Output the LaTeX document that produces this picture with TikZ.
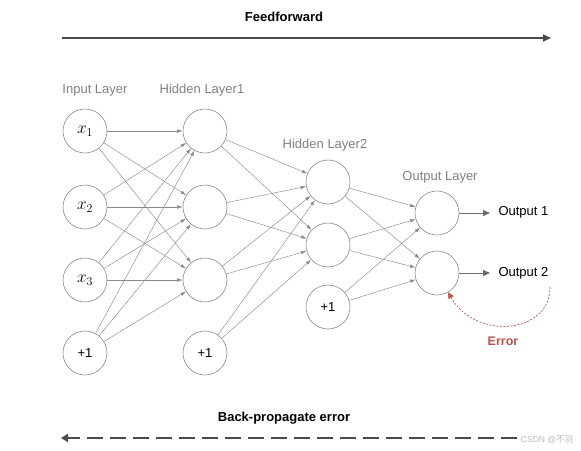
\documentclass[tikz,border=0pt]{standalone}
\usepackage{fontspec}
\setmainfont{Liberation Sans}
\newfontfamily\cjkfont{Noto Sans CJK SC}
\usetikzlibrary{arrows.meta}
\definecolor{linegray}{HTML}{8A8A8A}
\definecolor{labelgray}{HTML}{808080}
\definecolor{darkline}{HTML}{4A4A4A}
\definecolor{errred}{HTML}{C0504D}
\begin{document}
\begin{tikzpicture}[x=1pt,y=-1pt,
  neuron/.style={circle,draw=linegray,line width=0.6pt,minimum size=44pt,inner sep=0pt,font=\fontsize{13}{15}\selectfont},
  mathin/.style={font=\fontsize{18}{20}\selectfont},
  layerlabel/.style={text=labelgray,font=\fontsize{13}{15}\selectfont},
  conn/.style={draw=linegray,line width=0.45pt,-{Latex[length=5.5pt,width=3.5pt]}},
  outarrow/.style={draw=gray!85!black,line width=0.8pt,-{Triangle[length=7pt,width=6pt]}},
  outlabel/.style={font=\fontsize{13}{15}\selectfont,anchor=west},
  title/.style={font=\bfseries\fontsize{13}{15}\selectfont}]
\useasboundingbox (0,0) rectangle (581,450);
% titles and big arrows
\node[title] (ff) at (284,17) {Feedforward};
\coordinate (ffs) at (62,38);
\coordinate (ffe) at (551,38);
\draw[darkline,line width=1.8pt,-{Triangle[length=8pt,width=7pt]}] (ffs) -- (ffe);
\node[title] (bp) at (284,418) {Back-propagate error};
\coordinate (bps) at (540,438);
\coordinate (bpe) at (61,438);
\draw[darkline,line width=2.6pt,dash pattern=on 16pt off 7pt,-{Triangle[length=7pt,width=8pt]}] (bps) -- (bpe);
\node[text=gray!55,font=\fontsize{8.5}{9}\selectfont,fill=white,inner sep=1pt] (wm) at (547,440) {CSDN @\cjkfont 不羽};
% layer labels
\node[layerlabel] (lin) at (95,90) {Input Layer};
\node[layerlabel] (lh1) at (202,90) {Hidden Layer1};
\node[layerlabel] (lh2) at (325,145) {Hidden Layer2};
\node[layerlabel] (lout) at (440,177) {Output Layer};
% neurons
\node[neuron,mathin] (i1) at (85,131) {$x_1$};
\node[neuron,mathin] (i2) at (85,207) {$x_2$};
\node[neuron,mathin] (i3) at (85,280) {$x_3$};
\node[neuron] (i4) at (85,353) {+1};
\node[neuron] (h1) at (205,131) {};
\node[neuron] (h2) at (205,207) {};
\node[neuron] (h3) at (205,280) {};
\node[neuron] (h4) at (205,353) {+1};
\node[neuron] (g1) at (328,182) {};
\node[neuron] (g2) at (328,245) {};
\node[neuron] (g3) at (328,307) {+1};
\node[neuron] (o1) at (437,213) {};
\node[neuron] (o2) at (437,273) {};
% connections
\foreach \s in {i1,i2,i3,i4}{\foreach \t in {h1,h2,h3}{\draw[conn] (\s) -- (\t);}}
\foreach \s in {h1,h2,h3,h4}{\foreach \t in {g1,g2}{\draw[conn] (\s) -- (\t);}}
\foreach \s in {g1,g2,g3}{\foreach \t in {o1,o2}{\draw[conn] (\s) -- (\t);}}
% outputs
\node[outlabel] (out1) at (495,212) {Output 1};
\node[outlabel] (out2) at (495,273) {Output 2};
\draw[outarrow,shorten >=5pt] (o1.east) -- (out1.west |- o1.east);
\draw[outarrow,shorten >=5pt] (o2.east) -- (out2.west |- o2.east);
% error
\node[text=errred,font=\bfseries\fontsize{12.5}{14}\selectfont] (err) at (503,341) {Error};
\coordinate (es) at (550,287);
\draw[errred,line width=0.7pt,dash pattern=on 2pt off 1.5pt,-{Triangle[length=6pt,width=6pt]}]
  (es) .. controls (550,335) and (475,340) .. (o2.-60);
\end{tikzpicture}
\end{document}
